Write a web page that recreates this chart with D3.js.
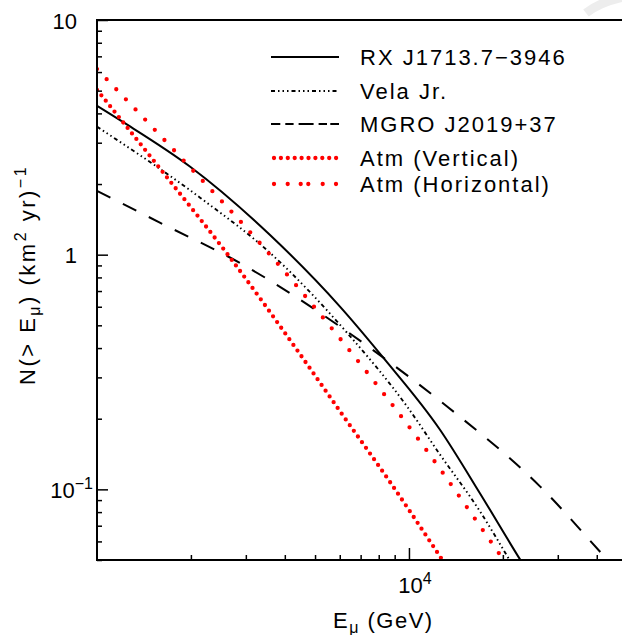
<!DOCTYPE html>
<html>
<head>
<meta charset="utf-8">
<script src="https://cdn.jsdelivr.net/npm/d3@7/dist/d3.min.js"></script>
<style>
  body { margin: 0; background: #fff; }
  svg { display: block; }
  text { font-family: "Liberation Sans", Arial, Helvetica, sans-serif; fill: #000; }
</style>
</head>
<body>
<div id="chart"></div>
<script>
// Muon flux above threshold vs muon energy

// series values: E (GeV) and N(>E) (km^2 yr)^-1
const rxE = [1000, 1210, 1990, 3580, 6010, 8260, 12560, 16900, 22700, 25300];
const rxN = [4.31, 3.68, 2.37, 1.216, 0.601, 0.365, 0.180, 0.0961, 0.0503, 0.040];

const velaE = [1000, 2140, 3580, 6320, 9860, 12560, 16900, 20750, 23200];
const velaN = [3.51, 1.75, 1.02, 0.466, 0.2255, 0.141, 0.0805, 0.0514, 0.040];

const mgroE = [1000, 1590, 2940, 6010, 8260, 13250, 26300, 43150, 50600];
const mgroN = [1.87, 1.37, 0.906, 0.494, 0.365, 0.2255, 0.103, 0.0503, 0.040];

const vertE = [1000, 1616, 2685, 4345, 6012, 8630, 12560, 14300];
const vertN = [5.04, 2.27, 0.962, 0.398, 0.215, 0.109, 0.0519, 0.040];

const horizE = [1000, 1834, 3428, 6194, 10910, 19720, 22600];
const horizN = [6.18, 2.64, 1.071, 0.418, 0.1585, 0.0519, 0.040];

const seriesNames = ["RX J1713.7\u22123946", "Vela Jr.", "MGRO J2019+37", "Atm (Vertical)", "Atm (Horizontal)"];

// tick values
const xMajor = [10000];
const xMinor = [2000, 3000, 4000, 5000, 6000, 7000, 8000, 9000, 20000, 30000, 40000];
const yMajor = [0.1, 1, 10];
const yMinor = [0.05, 0.06, 0.07, 0.08, 0.09, 0.2, 0.3, 0.4, 0.5, 0.6, 0.7, 0.8, 0.9,
                2, 3, 4, 5, 6, 7, 8, 9];
const xTickLabels = [["10", "4"]];
const yTickLabels = [["10", "\u22121"], ["1", ""], ["10", ""]];

const W = 622, H = 635;
const plot = { left: 97, right: 627, top: 20, bottom: 560 };

const svg = d3.select("#chart").append("svg")
  .attr("width", W).attr("height", H);

// faint watermark remnant in the corner
svg.append("path")
  .attr("d", "M586,13 Q600,2 624,-3")
  .attr("fill", "none")
  .attr("stroke", "#ededed")
  .attr("stroke-width", 9);

const x = d3.scaleLog().domain([1000, 50000]).range([plot.left, plot.right]);
const y = d3.scaleLog().domain([0.05, 10]).range([plot.bottom, plot.top]);

svg.append("clipPath").attr("id", "clip")
  .append("rect")
  .attr("x", plot.left).attr("y", plot.top)
  .attr("width", plot.right - plot.left).attr("height", plot.bottom - plot.top);

// series table
const styles = [
  { color: "#000", width: 2, dash: null, cap: "butt", legDash: null },
  { color: "#000", width: 1.9, dash: "4,3,1.5,3,1.5,3,1.5,3", cap: "butt", legDash: "4,3,1.5,3,1.5,3,1.5,3" },
  { color: "#000", width: 2, dash: "15,14", cap: "butt", legDash: "9.3,5,8.3,5,15,5,8.4,3.3,9.3" },
  { color: "#ff0000", width: 4.3, dash: "0,7", cap: "round", legDash: "0,6.9" },
  { color: "#ff0000", width: 4.3, dash: "0,14", cap: "round", legDash: "0,13.7,0,13,0,7.6,0,14.4,0,13.3" }
];
const allE = [rxE, velaE, mgroE, vertE, horizE];
const allN = [rxN, velaN, mgroN, vertN, horizN];
const series = seriesNames.map((name, i) => ({
  name: name,
  points: allE[i].map((e, j) => ({ e: e, n: allN[i][j] })),
  style: styles[i]
}));

const line = d3.line()
  .x(d => x(d.e))
  .y(d => y(d.n))
  .curve(d3.curveMonotoneX);

const curves = svg.append("g").attr("clip-path", "url(#clip)");
curves.selectAll("path")
  .data(series)
  .enter().append("path")
  .attr("d", d => line(d.points))
  .attr("fill", "none")
  .attr("stroke", d => d.style.color)
  .attr("stroke-width", d => d.style.width)
  .attr("stroke-linecap", d => d.style.cap)
  .attr("stroke-dasharray", d => d.style.dash);

// axes: ticks point inward
const axisX = svg.append("g").attr("transform", `translate(0,${plot.bottom})`);
axisX.append("g").call(d3.axisBottom(x).tickValues(xMinor).tickSize(-5).tickFormat(""));
axisX.append("g").call(d3.axisBottom(x).tickValues(xMajor).tickSize(-12).tickFormat(""));

const axisY = svg.append("g").attr("transform", `translate(${plot.left},0)`);
axisY.append("g").call(d3.axisLeft(y).tickValues(yMinor).tickSize(-5).tickFormat(""));
axisY.append("g").call(d3.axisLeft(y).tickValues(yMajor).tickSize(-11).tickFormat(""));

svg.selectAll(".domain").remove();
svg.selectAll(".tick line").attr("stroke", "#000").attr("stroke-width", 1.5);

// frame
svg.append("rect")
  .attr("x", plot.left).attr("y", plot.top)
  .attr("width", plot.right - plot.left).attr("height", plot.bottom - plot.top)
  .attr("fill", "none").attr("stroke", "#000").attr("stroke-width", 2);

// tick labels
function powerLabel(sel, base, exp) {
  sel.append("tspan").text(base);
  if (exp) sel.append("tspan").attr("font-size", 16).attr("dy", -9).text(exp);
}

xMajor.forEach((v, i) => {
  const t = svg.append("text")
    .attr("x", x(v) + 6).attr("y", plot.bottom + 33)
    .attr("text-anchor", "middle")
    .attr("font-size", 22);
  powerLabel(t, xTickLabels[i][0], xTickLabels[i][1]);
});

yMajor.forEach((v, i) => {
  const hasExp = yTickLabels[i][1] !== "";
  const t = svg.append("text")
    .attr("x", hasExp ? plot.left - 4 : plot.left - 20)
    .attr("y", y(v) + 8.5)
    .attr("text-anchor", "end")
    .attr("font-size", 22);
  powerLabel(t, yTickLabels[i][0], yTickLabels[i][1]);
});

// axis titles
const xt = svg.append("text")
  .attr("x", 333).attr("y", 628)
  .attr("font-size", 22)
  .attr("letter-spacing", 1.5);
xt.append("tspan").text("E");
xt.append("tspan").attr("font-size", 16).attr("dy", 5).text("\u03bc");
xt.append("tspan").attr("dy", -5).text(" (GeV)");

const yt = svg.append("text")
  .attr("transform", "translate(35,385) rotate(-90)")
  .attr("font-size", 22)
  .attr("letter-spacing", 2.5);
yt.append("tspan").text("N(> E");
yt.append("tspan").attr("font-size", 16).attr("dy", 5).text("\u03bc");
yt.append("tspan").attr("dy", -5).text(") (km");
yt.append("tspan").attr("font-size", 16).attr("dy", -9).text("2");
yt.append("tspan").attr("dy", 9).text(" yr)");
yt.append("tspan").attr("font-size", 16).attr("dy", -9).text("\u22121");

// legend
const legendY = [57, 91, 124, 158, 184];
const legend = svg.append("g");
series.forEach((s, i) => {
  const dotted = s.style.cap === "round";
  legend.append("line")
    .attr("x1", dotted ? 274 : 271).attr("x2", dotted ? 336.5 : 339)
    .attr("y1", legendY[i]).attr("y2", legendY[i])
    .attr("stroke", s.style.color)
    .attr("stroke-width", s.style.width)
    .attr("stroke-linecap", s.style.cap)
    .attr("stroke-dasharray", s.style.legDash);
  legend.append("text")
    .attr("x", 360).attr("y", legendY[i] + 8.3)
    .attr("font-size", 22)
    .attr("letter-spacing", 2)
    .text(s.name);
});
</script>
</body>
</html>
